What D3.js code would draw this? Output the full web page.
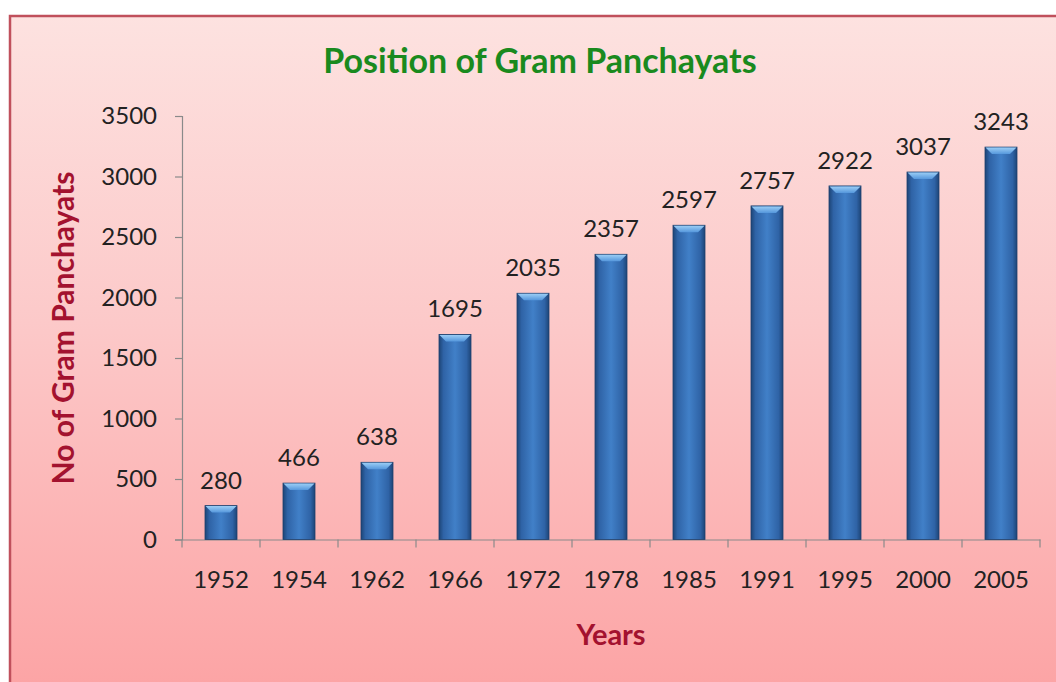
<!DOCTYPE html>
<html>
<head>
<meta charset="utf-8">
<script src="https://cdn.jsdelivr.net/npm/d3@7"></script>
<style>
  html, body { margin: 0; padding: 0; background: #ffffff; }
  svg { display: block; }
</style>
</head>
<body>
<svg id="chart" width="1056" height="682"></svg>
<script>
const years = ["1952", "1954", "1962", "1966", "1972", "1978", "1985", "1991", "1995", "2000", "2005"];
const panchayats = [280, 466, 638, 1695, 2035, 2357, 2597, 2757, 2922, 3037, 3243];
const yTicks = [0, 500, 1000, 1500, 2000, 2500, 3000, 3500];
const titleText = "Position of Gram Panchayats";
const yLabel = "No of Gram Panchayats";
const xLabel = "Years";

const svg = d3.select("#chart");
const defs = svg.append("defs");
const FONT = "Lato, 'Open Sans', sans-serif";
const TICK_FS = "24px";

// background gradient
const bg = defs.append("linearGradient").attr("id", "bg").attr("x1", 0).attr("y1", 0).attr("x2", 0).attr("y2", 1);
bg.append("stop").attr("offset", "0%").attr("stop-color", "#fde2e0");
bg.append("stop").attr("offset", "45%").attr("stop-color", "#fcc9c9");
bg.append("stop").attr("offset", "100%").attr("stop-color", "#fca3a4");

// bar gradient (horizontal)
const bar = defs.append("linearGradient").attr("id", "barg").attr("x1", 0).attr("y1", 0).attr("x2", 1).attr("y2", 0);
bar.append("stop").attr("offset", "0%").attr("stop-color", "#1d4577");
bar.append("stop").attr("offset", "14%").attr("stop-color", "#2f63a6");
bar.append("stop").attr("offset", "50%").attr("stop-color", "#4180c8");
bar.append("stop").attr("offset", "86%").attr("stop-color", "#2f63a6");
bar.append("stop").attr("offset", "100%").attr("stop-color", "#1d4577");

const bev = defs.append("linearGradient").attr("id", "bev").attr("x1", 0).attr("y1", 0).attr("x2", 0).attr("y2", 1);
bev.append("stop").attr("offset", "0%").attr("stop-color", "#9acdf5");
bev.append("stop").attr("offset", "100%").attr("stop-color", "#5597dc");

// frame
svg.append("rect").attr("x", 10).attr("y", 16).attr("width", 1060).attr("height", 680)
  .attr("fill", "url(#bg)").attr("stroke", "#c0505c").attr("stroke-width", 2.5);

const x = d3.scaleBand().domain(years).range([182, 1040]).paddingInner(0.59).paddingOuter(0.295);
const y = d3.scaleLinear().domain([0, 3500]).range([539.5, 116]);

// axes
const yAxis = svg.append("g").attr("transform", "translate(182,0)")
  .call(d3.axisLeft(y).tickValues(yTicks).tickSize(7).tickPadding(18).tickFormat(d3.format("d")));
const xAxis = svg.append("g").attr("transform", "translate(0,539.5)")
  .call(d3.axisBottom(x).tickSize(0).tickPadding(31));
[yAxis, xAxis].forEach(g => {
  g.select(".domain").attr("stroke", "#8a8a8a").attr("stroke-width", 1.2);
  g.selectAll(".tick line").attr("stroke", "#8a8a8a").attr("stroke-width", 1.2);
  g.selectAll(".tick text").attr("fill", "#222").style("font-family", FONT).style("font-size", TICK_FS);
});
// category boundary ticks on x axis
const edges = years.map((c, i) => x.range()[0] + i * x.step()).concat([x.range()[1]]);
xAxis.selectAll(".edge").data(edges).enter().append("line")
  .attr("x1", d => d).attr("x2", d => d).attr("y1", 0).attr("y2", 8)
  .attr("stroke", "#8a8a8a").attr("stroke-width", 1.2);

// bars
const bw = x.bandwidth();
const gb = svg.append("g");
years.forEach((c, i) => {
  const x0 = x(c), y0 = y(panchayats[i]), h = y(0) - y0;
  const g = gb.append("g");
  g.append("rect").attr("x", x0).attr("y", y0).attr("width", bw).attr("height", h)
    .attr("fill", "url(#barg)").attr("stroke", "#1b3f6c").attr("stroke-width", 0.8);
  const b = 7;
  g.append("path")
    .attr("d", `M${x0 + 0.5},${y0 + 0.5} L${x0 + bw - 0.5},${y0 + 0.5} L${x0 + bw - b},${y0 + b} L${x0 + b},${y0 + b} Z`)
    .attr("fill", "url(#bev)");
  svg.append("text").attr("x", x0 + bw / 2).attr("y", y0 - 17)
    .attr("text-anchor", "middle").attr("fill", "#222")
    .style("font-family", FONT).style("font-size", TICK_FS).text(panchayats[i]);
});

// title and axis labels
svg.append("text").attr("x", 540).attr("y", 73).attr("text-anchor", "middle")
  .attr("fill", "#1a8a1e").style("font-family", FONT).style("font-weight", "bold").style("font-size", "34px")
  .text(titleText);
svg.append("text").attr("transform", "translate(74,328) rotate(-90)").attr("text-anchor", "middle")
  .attr("fill", "#a3122f").style("font-family", FONT).style("font-weight", "bold").style("font-size", "30px")
  .text(yLabel);
svg.append("text").attr("x", 611).attr("y", 645).attr("text-anchor", "middle")
  .attr("fill", "#a3122f").style("font-family", FONT).style("font-weight", "bold").style("font-size", "29px")
  .text(xLabel);
</script>
</body>
</html>
